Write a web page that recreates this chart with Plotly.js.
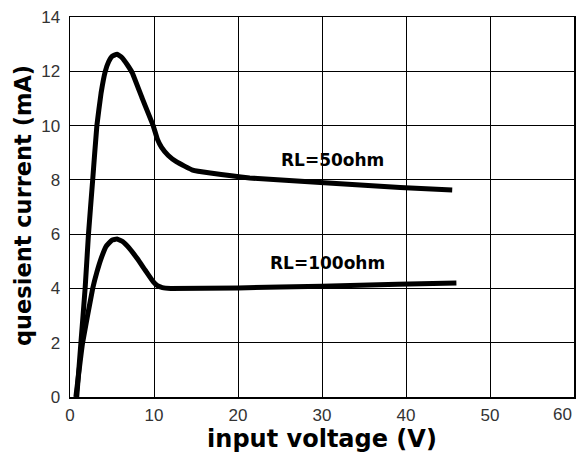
<!DOCTYPE html>
<html><head><meta charset="utf-8">
<script src="https://cdn.plot.ly/plotly-3.0.1.min.js"></script>
<style>body{margin:0;background:#fff}#c{width:576px;height:455px}</style>
</head><body><div id="c"></div>
<script>
const x50 = [0.8, 1.3, 1.8, 2.2, 2.7, 3.2, 3.7, 4.2, 4.6, 5.0, 5.6, 6.2, 6.8, 7.4, 8.6, 9.9, 10.4, 10.9, 11.7, 12.7, 14.6, 16.7, 21.4, 29.8, 39.3, 45.5];
const y50 = [0, 2, 4, 6, 8, 10, 11.2, 12, 12.35, 12.55, 12.63, 12.5, 12.25, 11.95, 11.0, 10.0, 9.5, 9.2, 8.9, 8.66, 8.36, 8.25, 8.07, 7.9, 7.72, 7.63];
const x100 = [0.7, 1.5, 2.7, 3.2, 3.7, 4.3, 5.0, 5.6, 6.3, 7.0, 8.0, 9.0, 9.9, 10.4, 11, 12, 20, 30, 39, 46];
const y100 = [0, 2, 4, 4.6, 5.1, 5.55, 5.78, 5.82, 5.72, 5.5, 5.1, 4.65, 4.25, 4.1, 4.03, 4.0, 4.02, 4.08, 4.15, 4.2];
const labels = ["RL=50ohm", "RL=100ohm"];
const labelX = [31.2, 30.6];
const labelY = [8.73, 4.94];
const xTicks = [0, 10, 20, 30, 40, 50, 60];
const yTicks = [0, 2, 4, 6, 8, 10, 12, 14];
const xTitle = 'input voltage (V)';
const yTitle = 'quesient current (mA)';

const line = {color: '#000', width: 5, shape: 'spline', smoothing: 0.3};
const data = [
  {x: x50, y: y50, mode: 'lines', line: line, hoverinfo: 'skip'},
  {x: x100, y: y100, mode: 'lines', line: line, hoverinfo: 'skip'}
];
const tickFont = {family: 'Liberation Sans, Arial, sans-serif', color: '#333', size: 17};
const titleFont = {family: 'DejaVu Sans, Verdana, sans-serif', size: 24, color: '#000', weight: 'bold'};
const layout = {
  width: 576, height: 455,
  margin: {l: 70, r: 2, t: 17, b: 58},
  paper_bgcolor: '#fff', plot_bgcolor: '#fff',
  showlegend: false,
  font: tickFont,
  xaxis: {
    range: [0, 60], tickvals: xTicks,
    ticktext: xTicks.map(v => v === 60 ? '' : String(v)),
    showgrid: true, gridcolor: '#000', gridwidth: 1,
    showline: true, linecolor: '#000', linewidth: 1.5, mirror: true,
    zeroline: false, ticks: '', ticklabelstandoff: 2,
    title: {text: xTitle, standoff: 2, font: titleFont}
  },
  yaxis: {
    range: [0, 14], tickvals: yTicks, ticktext: yTicks.map(String),
    showgrid: true, gridcolor: '#000', gridwidth: 1,
    showline: true, linecolor: '#000', linewidth: 1.5, mirror: true,
    zeroline: false, ticks: '', ticklabelstandoff: 5
  },
  annotations: labels.map((t, i) => ({
    x: labelX[i], y: labelY[i], text: t, showarrow: false,
    font: {family: 'DejaVu Sans, Verdana, sans-serif', size: 17, color: '#000', weight: 'bold'}
  })).concat([{
    x: 60, xref: 'x', y: 0, yref: 'paper', yanchor: 'top', xanchor: 'right', yshift: -6,
    text: String(xTicks[6]), showarrow: false, font: tickFont
  }, {
    x: -0.0933, xref: 'paper', y: 7.07, yref: 'y', xanchor: 'center', yanchor: 'middle',
    textangle: -90, text: yTitle, showarrow: false,
    font: Object.assign({}, titleFont, {size: 22.5})
  }])
};
Plotly.newPlot('c', data, layout, {staticPlot: true});
</script></body></html>
